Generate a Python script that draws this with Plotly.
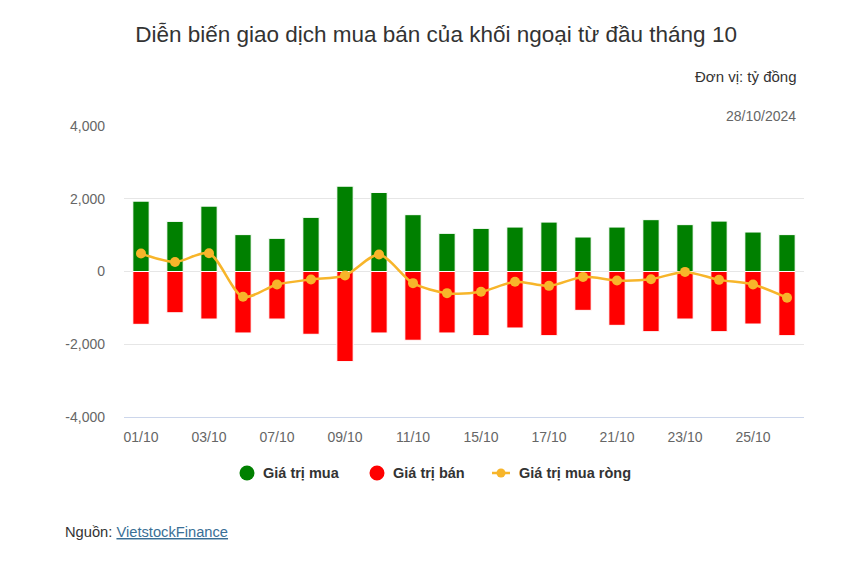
import plotly.graph_objects as go

dates = ["01/10", "02/10", "03/10", "04/10", "07/10", "08/10", "09/10", "10/10", "11/10", "14/10",
         "15/10", "16/10", "17/10", "18/10", "21/10", "22/10", "23/10", "24/10", "25/10", "28/10"]
buy = [1934, 1378, 1797, 1014, 912, 1488, 2345, 2173, 1562, 1049,
       1186, 1222, 1359, 948, 1222, 1425, 1288, 1386, 1085, 1014]
sell = [-1452, -1134, -1307, -1690, -1307, -1726, -2477, -1690, -1890, -1690,
        -1763, -1553, -1763, -1068, -1480, -1654, -1307, -1654, -1444, -1763]
net = [493, 263, 501, -696, -356, -219, -110, 466, -320, -595,
       -558, -284, -395, -148, -247, -211, -11, -230, -356, -723]
x_ticks = ["01/10", "03/10", "07/10", "09/10", "11/10", "15/10", "17/10", "21/10", "23/10", "25/10"]
y_ticks = [-4000, -2000, 0, 2000, 4000]
y_tick_text = ["-4,000", "-2,000", "0", "2,000", "4,000"]
series_names = ["Giá trị mua", "Giá trị bán", "Giá trị mua ròng"]

GREEN = "#008000"
RED = "#ff0000"
GOLD = "#f7b52a"
FONT = "Liberation Sans, Arial, sans-serif"

L, R, T, B = 124, 46, 126, 148
W, H = 850, 565
PW, PH = W - L - R, H - T - B


def px(x):
    return (x - L) / PW


def py(y):
    return (H - B - y) / PH


fig = go.Figure()
fig.add_trace(go.Bar(x=dates, y=buy, name=series_names[0],
                     marker=dict(color=GREEN, line=dict(color="white", width=1))))
fig.add_trace(go.Bar(x=dates, y=sell, name=series_names[1],
                     marker=dict(color=RED, line=dict(color="white", width=1))))
fig.add_trace(go.Scatter(x=dates, y=net, name=series_names[2], mode="lines+markers",
                         line=dict(color=GOLD, width=2.5, shape="spline", smoothing=0.8),
                         marker=dict(color=GOLD, size=10)))

# custom legend (circle symbols like the original)
ly = 473
shapes = [
    dict(type="circle", xref="paper", yref="paper", x0=px(239.5), x1=px(254.5), y0=py(465.5), y1=py(480.5),
         fillcolor=GREEN, line=dict(width=0)),
    dict(type="circle", xref="paper", yref="paper", x0=px(369.5), x1=px(384.5), y0=py(465.5), y1=py(480.5),
         fillcolor=RED, line=dict(width=0)),
    dict(type="line", xref="paper", yref="paper", x0=px(492), x1=px(510), y0=py(ly), y1=py(ly),
         line=dict(color=GOLD, width=2.5)),
    dict(type="circle", xref="paper", yref="paper", x0=px(496.5), x1=px(505.5), y0=py(468.5), y1=py(477.5),
         fillcolor=GOLD, line=dict(width=0)),
]
legend_ann = [
    dict(text="<b>%s</b>" % name, xref="paper", yref="paper", x=px(xx), y=py(ly), xanchor="left",
         yanchor="middle", showarrow=False, font=dict(size=14.5, color="#333333"))
    for name, xx in zip(series_names, [261, 391, 517])
]

fig.update_layout(
    width=W, height=H,
    barmode="relative", bargap=0.52,
    plot_bgcolor="white", paper_bgcolor="white",
    margin=dict(l=L, r=R, t=T, b=B),
    font=dict(family=FONT, color="#333333"),
    showlegend=False,
    title=dict(text="Diễn biến giao dịch mua bán của khối ngoại từ đầu tháng 10",
               x=0.513, xanchor="center", y=0.94, yanchor="middle",
               font=dict(size=22.5, color="#333333", family=FONT)),
    xaxis=dict(type="category", tickmode="array", tickvals=x_ticks, ticktext=x_ticks,
               categoryorder="array", categoryarray=dates, range=[-0.5, len(dates) - 0.5],
               showgrid=False, showline=True, linecolor="#ccd6eb", linewidth=1,
               ticks="", tickfont=dict(size=14, color="#666666"), ticklabelstandoff=7),
    yaxis=dict(range=[-4000, 4000], tickmode="array", tickvals=y_ticks, ticktext=y_tick_text,
               showgrid=True, gridcolor="#e6e6e6", gridwidth=1, zeroline=False,
               showline=False, ticks="", tickfont=dict(size=14, color="#666666"),
               ticklabelstandoff=18),
    shapes=shapes,
    annotations=[
        dict(text="Đơn vị: tỷ đồng", xref="paper", yref="paper", x=px(799), y=py(77), xanchor="right",
             yanchor="middle", showarrow=False, font=dict(size=15, color="#333333")),
        dict(text="28/10/2024", xref="paper", yref="paper", x=px(798), y=py(116), xanchor="right",
             yanchor="middle", showarrow=False, font=dict(size=14, color="#666666")),
        dict(text="Nguồn: <span style='color:#3a6f96'><u>VietstockFinance</u></span>", xref="paper",
             yref="paper", x=px(63), y=py(532), xanchor="left", yanchor="middle", showarrow=False,
             font=dict(size=14.7, color="#333333"), align="left"),
    ] + legend_ann,
)
fig.write_html("out.html")
